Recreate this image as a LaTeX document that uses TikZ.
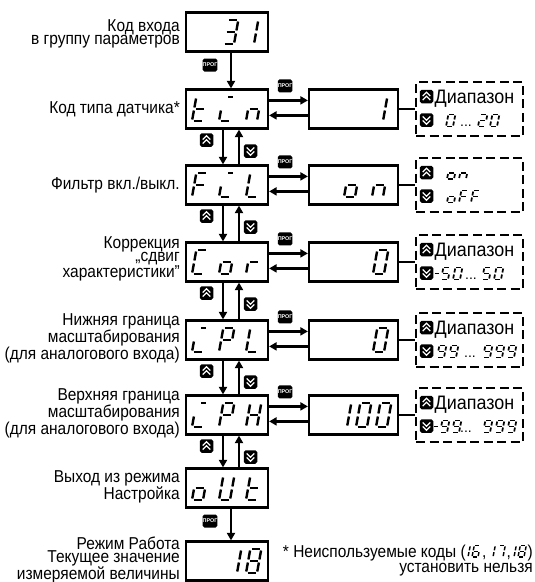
\documentclass[tikz,border=0pt]{standalone}
\usepackage{fontspec}
\setmainfont{Liberation Sans}
\newfontfamily\lblfont{Liberation Sans}[FakeStretch=0.9]
\newfontfamily\dfont{Liberation Sans}[FakeStretch=0.92]
\usetikzlibrary{arrows.meta}

\newcommand\sgA[3]{\draw (#3,#2) -- (#1-#3,#2);}
\newcommand\sgB[3]{\draw (#1,#2-#3) -- (#1,#2/2+#3);}
\newcommand\sgC[3]{\draw (#1,#2/2-#3) -- (#1,#3);}
\newcommand\sgD[3]{\draw (#3,0) -- (#1-#3,0);}
\newcommand\sgE[3]{\draw (0,#3) -- (0,#2/2-#3);}
\newcommand\sgF[3]{\draw (0,#2/2+#3) -- (0,#2-#3);}
\newcommand\sgG[3]{\draw (#3,#2/2) -- (#1-#3,#2/2);}
\newcommand\sgI[3]{\draw (0.45*#1,#2) -- (#1-#3,#2);}
\newcommand\sev[8]{%
  \edef\seglist{#8}%
  \begin{scope}[shift={(#1,#2)},x=1pt,y=1pt,xslant=#6,line width=#5]
    \foreach \segx in \seglist {\csname sg\segx\endcsname{#3}{#4}{#7}}
  \end{scope}}
\newcommand\bigd[3]{\sev{#1}{#2}{11}{24}{2.4}{0.18}{1.5}{#3}}
\newcommand\smd[3]{\sev{#1}{#2}{7}{12}{1.7}{0.2}{1.0}{#3}}
\newcommand\fnd[3]{\sev{#1}{#2}{6}{11.5}{1.4}{0.2}{0.9}{#3}}

\tikzset{
  box/.style={draw, line width=2.2pt, minimum width=82pt, minimum height=39pt, inner sep=0pt},
  vbox/.style={box, minimum width=89pt},
  dbox/.style={draw, line width=2.2pt, dash pattern=on 9pt off 4.5pt, minimum width=107pt, minimum height=54pt, inner sep=0pt},
  arr/.style={line width=2.2pt, -{Triangle[length=7.5pt,width=8pt]}},
  link/.style={line width=2.2pt},
  lbl/.style={anchor=east, align=right, inner sep=0pt, font=\lblfont\fontsize{17.2}{13}\selectfont},
  prog/.style={fill=black, rounded corners=1.8pt, minimum width=14pt, minimum height=13pt, inner sep=0pt, text=white, font=\fontsize{5.4}{6}\selectfont\bfseries},
  upb/.style={fill=black, rounded corners=1.8pt, minimum width=13.5pt, minimum height=13.5pt, inner sep=0pt,
    path picture={
      \draw[white, line width=1.2pt, sharp corners] ([shift={(-3.8pt,-3.6pt)}]path picture bounding box.center) -- ++(3.8pt,3.8pt) -- ++(3.8pt,-3.8pt);
      \draw[white, line width=1.2pt, sharp corners] ([shift={(-3.8pt,0.4pt)}]path picture bounding box.center) -- ++(3.8pt,3.8pt) -- ++(3.8pt,-3.8pt);}},
  dnb/.style={fill=black, rounded corners=1.8pt, minimum width=13.5pt, minimum height=13.5pt, inner sep=0pt,
    path picture={
      \draw[white, line width=1.2pt, sharp corners] ([shift={(-3.8pt,3.6pt)}]path picture bounding box.center) -- ++(3.8pt,-3.8pt) -- ++(3.8pt,3.8pt);
      \draw[white, line width=1.2pt, sharp corners] ([shift={(-3.8pt,-0.4pt)}]path picture bounding box.center) -- ++(3.8pt,-3.8pt) -- ++(3.8pt,3.8pt);}},
  dtext/.style={anchor=base west, inner sep=0pt, font=\dfont\fontsize{19.5}{20}\selectfont},
  ell/.style={anchor=base, inner sep=0pt, font=\fontsize{14}{14}\selectfont},
  fn/.style={inner sep=0pt, font=\lblfont\fontsize{17.2}{13}\selectfont},
}

\begin{document}
\begin{tikzpicture}[x=1pt,y=-1pt]
\useasboundingbox (0,0) rectangle (535,582);

% ---- main display boxes
\node[box] (m1) at (227,32) {};
\node[box] (m2) at (227,109) {};
\node[box] (m3) at (227,185) {};
\node[box] (m4) at (227,262) {};
\node[box] (m5) at (227,340) {};
\node[box] (m6) at (227,415) {};
\node[box] (m7) at (227,488) {};
\node[box] (m8) at (227,561) {};

% ---- value boxes
\node[vbox] (v2) at (353.5,109) {};
\node[vbox] (v3) at (353.5,185) {};
\node[vbox] (v4) at (353.5,262) {};
\node[vbox] (v5) at (353.5,340) {};
\node[vbox] (v6) at (353.5,415) {};

% ---- dashed boxes
\node[dbox] (d2) at (469.5,109) {};
\node[dbox] (d3) at (469.5,185) {};
\node[dbox] (d4) at (469.5,262) {};
\node[dbox] (d5) at (469.5,340) {};
\node[dbox] (d6) at (469.5,415) {};

% ---- labels
\node[lbl] (l1) at (180,34) {Код входа\\в группу параметров};
\node[lbl] (l2) at (180,109) {Код типа датчика*};
\node[lbl] (l3) at (180,185) {Фильтр вкл./выкл.};
\node[lbl] (l4) at (180,259) {Коррекция\\„сдвиг\\характеристики”};
\node[lbl] (l5) at (180,338) {Нижняя граница\\масштабирования\\(для аналогового входа)};
\node[lbl] (l6) at (180,413) {Верхняя граница\\масштабирования\\(для аналогового входа)};
\node[lbl] (l7) at (180,487) {Выход из режима\\Настройка};
\node[lbl] (l8) at (180,560) {Режим Работа\\Текущее значение\\измеряемой величины};

% ---- vertical connectors
\coordinate (px) at (231,0);
\coordinate (dx) at (223,0);
\coordinate (ux) at (239,0);
\draw[arr] (m1.south -| px) -- (m2.north -| px);
\draw[arr] (m7.south -| px) -- (m8.north -| px);
\node[prog] (p12) at (210,65) {ПРОГ};
\node[prog] (p78) at (210,521) {ПРОГ};

\foreach \a/\b/\yb in {2/3/128.5,3/4/204.5,4/5/281.5,5/6/359.5,6/7/434.5}{
  \draw[arr] (m\a.south -| dx) -- (m\b.north -| dx);
  \draw[arr] (m\b.north -| ux) -- (m\a.south -| ux);
  \node[upb] (u\a) at (206.5,\yb+11.5) {};
  \node[dnb] (w\a) at (250.5,\yb+22.5) {};
}

% ---- horizontal connectors
\foreach \r in {2,...,6}{
  \draw[arr] ([yshift=-12pt]m\r.north east) -- ([yshift=-12pt]v\r.north west);
  \draw[arr] ([yshift=-27pt]v\r.north west) -- ([yshift=-27pt]m\r.north east);
  \node[prog] (pr\r) at ([xshift=16pt,yshift=2.5pt]m\r.north east) {ПРОГ};
  \draw[link] (v\r.east) -- (d\r.west);
  \node[upb] (du\r) at ([xshift=-43pt,yshift=12.5pt]d\r.center) {};
  \node[dnb] (dd\r) at ([xshift=-43pt,yshift=-11pt]d\r.center) {};
}

% ---- dashed box texts
\node[dtext] (t2) at (434.5,103) {Диапазон};
\node[dtext] (t4) at (434.5,256) {Диапазон};
\node[dtext] (t5) at (434.5,334) {Диапазон};
\node[dtext] (t6) at (434.5,409) {Диапазон};

% range 0 ... 20
\smd{446}{126.5}{A,B,C,D,E,F}
\node[ell] (e2) at (466,126.5) {...};
\smd{478}{126.5}{A,B,G,E,D}
\smd{490}{126.5}{A,B,C,D,E,F}
% on / oFF
\smd{447}{179}{C,D,E,G}
\smd{459}{179}{C,E,G}
\smd{447}{202.5}{C,D,E,G}
\smd{459}{202.5}{A,E,F,G}
\smd{471}{202.5}{A,E,F,G}
% -50 ... 50
\sev{433}{279.5}{5}{12}{1.7}{0.2}{0.5}{G}
\smd{441}{279.5}{A,F,G,C,D}
\smd{453}{279.5}{A,B,C,D,E,F}
\node[ell] (e4) at (471,279.5) {...};
\smd{482}{279.5}{A,F,G,C,D}
\smd{494}{279.5}{A,B,C,D,E,F}
% 99 ... 999
\smd{437}{357.5}{A,B,C,D,F,G}
\smd{449}{357.5}{A,B,C,D,F,G}
\node[ell] (e5) at (470,357.5) {...};
\smd{483}{357.5}{A,B,C,D,F,G}
\smd{495}{357.5}{A,B,C,D,F,G}
\smd{507}{357.5}{A,B,C,D,F,G}
% -99... 999
\sev{432}{432.5}{5}{12}{1.7}{0.2}{0.5}{G}
\smd{440}{432.5}{A,B,C,D,F,G}
\smd{452}{432.5}{A,B,C,D,F,G}
\node[ell] (e6) at (466,432.5) {...};
\smd{483}{432.5}{A,B,C,D,F,G}
\smd{495}{432.5}{A,B,C,D,F,G}
\smd{507}{432.5}{A,B,C,D,F,G}

% ---- main display digits
% 31
\bigd{223}{44}{A,B,C,D,G}
\bigd{243}{44}{B,C}
% tin
\bigd{192}{121}{D,E,F,G}
\bigd{219}{121}{D,E,I}
\bigd{246}{121}{C,E,G}
% FiL
\bigd{192}{197}{A,E,F,G}
\bigd{219}{197}{D,E,I}
\bigd{246}{197}{D,E,F}
% Cor
\bigd{192}{274}{A,D,E,F}
\bigd{219}{274}{C,D,E,G}
\bigd{246}{274}{E,G}
% iPL
\bigd{192}{352}{D,E,I}
\bigd{219}{352}{A,B,E,F,G}
\bigd{246}{352}{D,E,F}
% iPH
\bigd{192}{427}{D,E,I}
\bigd{219}{427}{A,B,E,F,G}
\bigd{246}{427}{B,C,E,F,G}
% oUt
\bigd{192}{500}{C,D,E,G}
\bigd{219}{500}{B,C,D,E,F}
\bigd{246}{500}{D,E,F,G}
% 18
\bigd{226}{573}{B,C}
\bigd{246}{573}{A,B,C,D,E,F,G}

% ---- value digits
\bigd{372}{121}{B,C}
\bigd{344}{197}{C,D,E,G}
\bigd{372}{197}{C,E,G}
\bigd{373}{274}{A,B,C,D,E,F}
\bigd{373}{352}{A,B,C,D,E,F}
\bigd{336}{427}{B,C}
\bigd{356}{427}{A,B,C,D,E,F}
\bigd{376}{427}{A,B,C,D,E,F}

% ---- footnote
\node[fn, anchor=base east] (f1) at (466,557) {* Неиспользуемые коды (};
\fnd{462}{557}{B,C}
\fnd{472}{557}{A,F,G,E,C,D}
\node[fn, anchor=base west] (fc1) at (482,557) {,};
\fnd{487}{557}{B,C}
\fnd{497}{557}{A,B,C}
\node[fn, anchor=base west] (fc2) at (506.5,557) {,};
\fnd{508}{557}{B,C}
\fnd{518}{557}{A,B,C,D,E,F,G}
\node[fn, anchor=base west] (fp) at (527.5,557) {)};
\node[fn, anchor=base east] (f2) at (533,572) {установить нельзя};
\end{tikzpicture}
\end{document}
